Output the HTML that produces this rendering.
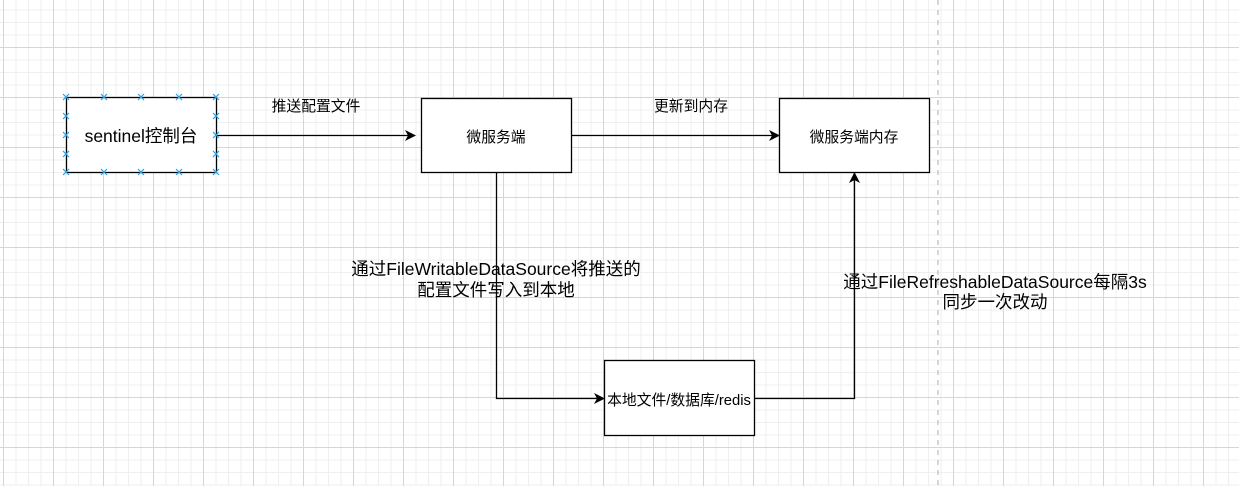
<!DOCTYPE html>
<html><head><meta charset="utf-8"><style>
html,body{margin:0;padding:0;}
body{width:1239px;height:486px;overflow:hidden;position:relative;background:#fff;
font-family:"Liberation Sans","Noto Sans CJK SC",sans-serif;
background-image:
linear-gradient(to right,#d6d6d6 1px,transparent 1px),
linear-gradient(to bottom,#d6d6d6 1px,transparent 1px),
linear-gradient(to right,#efefef 1px,transparent 1px),
linear-gradient(to bottom,#efefef 1px,transparent 1px);
background-size:50px 50px,50px 50px,12.5px 12.5px,12.5px 12.5px;
background-position:3px 0,0 -3px,3px 0,0 -3px;}
.t{position:absolute;color:#000;white-space:nowrap;text-align:center;}
</style></head><body>
<svg width="1239" height="486" style="position:absolute;left:0;top:0">
<defs><g id="x"><line x1="-3" y1="-3" x2="3" y2="3"/><line x1="-3" y1="3" x2="3" y2="-3"/></g></defs>
<line x1="938" y1="0" x2="938" y2="486" stroke="#c8c8c8" stroke-width="1.5" stroke-dasharray="5,5"/>
<g stroke="#000" stroke-width="1.3" fill="#fff">
<rect x="66.5" y="97.5" width="150" height="75"/>
<rect x="421.5" y="98.5" width="150" height="74"/>
<rect x="779.5" y="98.5" width="150" height="74"/>
<rect x="604.5" y="360.5" width="150" height="75"/>
</g>
<g stroke="#000" stroke-width="1.3" fill="none">
<line x1="217" y1="135.5" x2="408" y2="135.5"/>
<line x1="572" y1="135.5" x2="772" y2="135.5"/>
<polyline points="496.5,173 496.5,398.5 597,398.5"/>
<polyline points="755,398.5 854.5,398.5 854.5,180"/>
</g>
<g fill="#000">
<polygon points="416,135.5 405,130 408,135.5 405,141"/>
<polygon points="780,135.5 769,130 772,135.5 769,141"/>
<polygon points="605,398.5 594,393 597,398.5 594,404"/>
<polygon points="854.5,172 849,183 854.5,180 860,183"/>
</g>
<g stroke="#29a3e6" stroke-width="1.2">
<use href="#x" x="104" y="97"/><use href="#x" x="141" y="97"/><use href="#x" x="179" y="97"/><use href="#x" x="216" y="97"/><use href="#x" x="66" y="97"/>
<use href="#x" x="66" y="172"/><use href="#x" x="104" y="172"/><use href="#x" x="141" y="172"/><use href="#x" x="179" y="172"/><use href="#x" x="216" y="172"/>
<use href="#x" x="66" y="116"/><use href="#x" x="66" y="135"/><use href="#x" x="66" y="154"/>
<use href="#x" x="216" y="116"/><use href="#x" x="216" y="135"/><use href="#x" x="216" y="154"/>
</g>
</svg>
<div class="t" style="left:41px;top:123px;width:200px;font-size:17.5px;">sentinel控制台</div>
<div class="t" style="left:421px;top:126px;width:150px;font-size:14.8px;">微服务端</div>
<div class="t" style="left:779px;top:126px;width:150px;font-size:14.8px;">微服务端内存</div>
<div class="t" style="left:579px;top:389px;width:200px;font-size:14.8px;">本地文件/数据库/redis</div>
<div class="t" style="left:216px;top:95px;width:200px;font-size:14.8px;">推送配置文件</div>
<div class="t" style="left:591px;top:95px;width:200px;font-size:14.8px;">更新到内存</div>
<div class="t" style="left:296px;top:259px;width:400px;font-size:17.5px;line-height:21px;">通过FileWritableDataSource将推送的<br>配置文件写入到本地</div>
<div class="t" style="left:795px;top:272px;width:400px;font-size:17.5px;line-height:20px;">通过FileRefreshableDataSource每隔3s<br>同步一次改动</div>
</body></html>
